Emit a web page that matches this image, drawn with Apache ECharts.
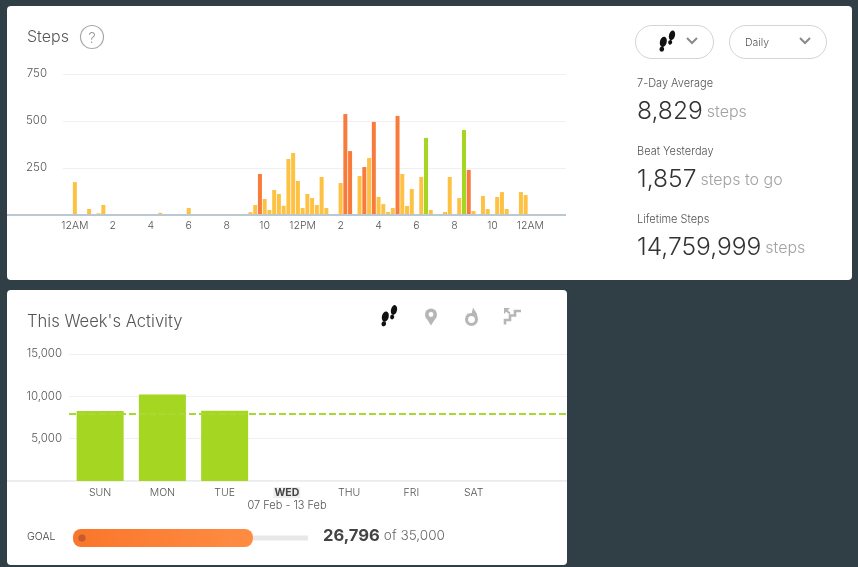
<!DOCTYPE html>
<html>
<head>
<meta charset="utf-8">
<style>
  html, body { margin: 0; padding: 0; background: #2f3f45; }
  #main { width: 858px; height: 567px; }
</style>
<script src="https://cdn.jsdelivr.net/npm/echarts@6/dist/echarts.min.js"></script>
</head>
<body>
<div id="main"></div>
<script>
// 15 minute bins starting at 12AM
var stepValues = [
  175, 0, 3, 32, 5, 9, 53, 3, 0, 0, 0, 0, 0, 0, 0, 0,
  0, 0, 12, 0, 0, 3, 0, 0, 37, 0, 0, 0, 0, 0, 0, 0,
  0, 0, 0, 0, 0, 15, 53, 218, 85, 27, 133, 112, 49, 298, 330, 181,
  37, 112, 90, 53, 202, 37, 0, 0, 170, 537, 340, 0, 207, 255, 303, 495,
  96, 58, 16, 37, 527, 218, 48, 138, 0, 202, 410, 27, 0, 0, 16, 202,
  3, 90, 452, 240, 21, 0, 101, 32, 3, 96, 122, 32, 0, 0, 122, 106
];
var orangeBins = [39, 57, 58, 61, 63, 68, 83];
var greenBins = [74, 82];
var hourLabels = ['12AM', '2', '4', '6', '8', '10', '12PM', '2', '4', '6', '8', '10', '12AM'];
var stepTicks = [0, 250, 500, 750];

var weekDays = ['SUN', 'MON', 'TUE', 'WED', 'THU', 'FRI', 'SAT', ''];
var weekSteps = [8280, 10230, 8286, null, null, null, null, null];
var weekTicks = [0, 5000, 10000, 15000];
var dailyGoal = 8000;
var weekTotal = 26796;
var weekGoal = 35000;

var leadBins = 2, trailBins = 8;
var YELLOW = '#fdc244', ORANGE = '#f97b3b', GREEN = '#a5d621', GREY = '#b6b6b6';
var FONT = 'Inter';

var stepCats = [], stepData = [];
for (var i = 0; i < leadBins + stepValues.length + trailBins; i++) {
  var b = i - leadBins;
  stepCats.push(b >= 0 && b % 8 === 0 && hourLabels[b / 8] ? hourLabels[b / 8] : '');
  stepData.push(b >= 0 && b < stepValues.length ? stepValues[b] : null);
}

function stepColor(p) {
  var b = p.dataIndex - leadBins;
  if (orangeBins.indexOf(b) >= 0) return ORANGE;
  if (greenBins.indexOf(b) >= 0) return GREEN;
  return YELLOW;
}

function footprints(dx, dy) {
  var parts = [
    [385.3, 316.6, 3.4, 5.2],
    [383.8, 323.8, 2.3, 2.6],
    [394, 310, 3, 5],
    [392.2, 317, 2, 2.4]
  ];
  return parts.map(function (s) {
    return { type: 'ellipse', x: s[0] + dx, y: s[1] + dy, rotation: -0.25,
      shape: { cx: 0, cy: 0, rx: s[2], ry: s[3] }, style: { fill: '#111' } };
  });
}

function label(x, y, text, size, color, extra) {
  var st = { x: x, y: y, text: text, fontSize: size, fill: color,
    fontFamily: FONT, fontWeight: 300, verticalAlign: 'middle' };
  for (var k in extra) st[k] = extra[k];
  return { type: 'text', style: st, z: 5 };
}

function statLine(y, text) {
  return label(637, y, text, 14, '#333', {
    rich: {
      n: { fontSize: 24.6, fill: '#333', fontFamily: FONT, fontWeight: 300 },
      u: { fontSize: 16, fill: '#a2a2a2', fontFamily: FONT, fontWeight: 300 }
    }
  });
}

function chevron(x, y) {
  return { type: 'polyline', shape: { points: [[x - 5, y - 3], [x, y + 2], [x + 5, y - 3]] },
    style: { stroke: '#8a8a8a', lineWidth: 2, fill: null } };
}

function pill(x, w) {
  return { type: 'rect', shape: { x: x, y: 25.5, width: w, height: 33, r: 16.5 },
    style: { fill: '#fff', stroke: '#d4d4d4', lineWidth: 1 } };
}

var graphics = [
  { type: 'rect', z: -10, shape: { x: 7, y: 6, width: 845, height: 274, r: 4 }, style: { fill: '#fff' } },
  { type: 'rect', z: -10, shape: { x: 7, y: 290, width: 560, height: 275, r: 4 }, style: { fill: '#fff' } },
  { type: 'line', z: 4, shape: { x1: 7, y1: 215, x2: 566, y2: 215 }, style: { stroke: '#b9c8d2', lineWidth: 2 } },
  { type: 'line', z: -5, shape: { x1: 7, y1: 481, x2: 567, y2: 481 }, style: { stroke: '#ececec', lineWidth: 2 } },

  label(27, 37, 'Steps', 16, '#555'),
  { type: 'circle', shape: { cx: 92, cy: 37, r: 11.5 }, style: { fill: '#fff', stroke: '#a8a8a8', lineWidth: 1.2 } },
  label(92, 38, '?', 15, '#999', { align: 'center' }),

  pill(635.5, 78), pill(729.5, 97),
  chevron(692, 41), chevron(805, 41),
  label(745, 43, 'Daily', 10.5, '#555'),

  label(637, 84, '7-Day Average', 11, '#555'),
  statLine(112, '{n|8,829} {u|steps}'),
  label(637, 152, 'Beat Yesterday', 11, '#555'),
  statLine(180, '{n|1,857} {u|steps to go}'),
  label(637, 220, 'Lifetime Steps', 11, '#555'),
  statLine(248, '{n|14,759,999} {u|steps}'),

  label(27, 322, "This Week's Activity", 16.6, '#555'),

  // location pin
  { type: 'polygon', shape: { points: [[425.6, 317], [436.4, 317], [431, 325.5]] }, style: { fill: GREY } },
  { type: 'circle', shape: { cx: 431, cy: 314.5, r: 6 }, style: { fill: GREY } },
  { type: 'circle', shape: { cx: 431, cy: 314.5, r: 2.4 }, style: { fill: '#fff' } },
  // flame
  { type: 'ring', shape: { cx: 471.5, cy: 319.5, r: 6.5, r0: 3.4 }, style: { fill: GREY } },
  { type: 'polygon', shape: { points: [[473, 307.5], [477, 314], [477.5, 318], [471, 315.5], [472, 312]] }, style: { fill: GREY } },
  { type: 'polygon', shape: { points: [[465.5, 317], [468, 313], [470, 316]] }, style: { fill: GREY } },
  // stairs
  { type: 'polyline', shape: { points: [[505, 324.5], [505, 320], [510, 320], [510, 315.5], [515, 315.5], [515, 311], [521, 311]] },
    style: { stroke: GREY, lineWidth: 2.6, fill: null } },
  { type: 'polyline', shape: { points: [[510, 313.5], [505, 309.5]] }, style: { stroke: GREY, lineWidth: 2.2, fill: null } },
  { type: 'polygon', shape: { points: [[504, 308], [510, 308], [504, 314]] }, style: { fill: GREY } },

  label(287, 506, '07 Feb - 13 Feb', 11, '#555', { align: 'center' }),
  label(27, 537, 'GOAL', 10.5, '#444'),
  { type: 'circle', z: 6, shape: { cx: 82, cy: 538, r: 3.6 }, style: { fill: '#c55a2c' } },
  label(323, 535.5, '{n|26,796} {u|of 35,000}', 14, '#555', {
    rich: {
      n: { fontSize: 16.6, fontWeight: 'bold', fill: '#444', fontFamily: FONT },
      u: { fontSize: 13.6, fill: '#666', fontFamily: FONT, fontWeight: 300 }
    }
  })
].concat(footprints(0, 0), footprints(278, -274.7));

var axisText = { color: '#555', fontSize: 10.5, fontFamily: FONT, fontWeight: 300 };
var yAxisText = { color: '#555', fontSize: 11.5, fontFamily: FONT, fontWeight: 300, padding: [4, 0, 0, 0] };
var splitLight = { show: true, lineStyle: { color: '#f0f0f0', width: 1 } };

var option = {
  animation: false,
  backgroundColor: '#2f3f45',
  graphic: { elements: graphics },
  grid: [
    { left: 63, top: 74, width: 503, height: 141 },
    { left: 69, top: 354, width: 498, height: 127 },
    { left: 73, top: 529, width: 235, height: 18 }
  ],
  xAxis: [
    { type: 'category', gridIndex: 0, data: stepCats, axisLine: { show: false }, axisTick: { show: false },
      axisLabel: Object.assign({ interval: 0, margin: 5, hideOverlap: false }, axisText) },
    { type: 'category', gridIndex: 1, data: weekDays, axisLine: { show: false }, axisTick: { show: false },
      axisLabel: Object.assign({
        interval: 0, margin: 6,
        formatter: function (v) { return v === 'WED' ? '{today|' + v + '}' : v; },
        rich: { today: { fontWeight: 'bold', backgroundColor: '#eeeeee', color: '#444', fontSize: 10.5, fontFamily: FONT, padding: [0, 1, 0, 1] } }
      }, axisText) },
    { type: 'value', gridIndex: 2, min: 0, max: weekGoal, show: false }
  ],
  yAxis: [
    { type: 'value', gridIndex: 0, min: stepTicks[0], max: stepTicks[3], interval: stepTicks[1],
      axisLine: { show: false }, axisTick: { show: false }, splitLine: splitLight,
      axisLabel: Object.assign({ margin: 16, formatter: function (v) { return v === 0 ? '' : v; } }, yAxisText) },
    { type: 'value', gridIndex: 1, min: weekTicks[0], max: weekTicks[3], interval: weekTicks[1],
      axisLine: { show: false }, axisTick: { show: false }, splitLine: splitLight,
      axisLabel: Object.assign({ margin: 7, formatter: function (v) { return v === 0 ? '' : v.toLocaleString('en-US'); } }, yAxisText) },
    { type: 'category', gridIndex: 2, data: ['goal'], show: false },
    { type: 'category', gridIndex: 2, data: ['track'], show: false }
  ],
  series: [
    { type: 'bar', name: 'Steps', xAxisIndex: 0, yAxisIndex: 0, data: stepData, barWidth: 4,
      itemStyle: { color: stepColor } },
    { type: 'bar', name: 'This week', xAxisIndex: 1, yAxisIndex: 1, data: weekSteps, barWidth: 47,
      itemStyle: { color: GREEN },
      markLine: { silent: true, symbol: 'none', label: { show: false },
        lineStyle: { color: '#a9d932', type: [7, 3], width: 2 },
        data: [{ yAxis: dailyGoal }] } },
    { type: 'bar', name: 'Goal track', xAxisIndex: 2, yAxisIndex: 3, data: [weekGoal], barWidth: 5, z: 1,
      itemStyle: { color: '#e8e8e8' } },
    { type: 'bar', name: 'Goal progress', xAxisIndex: 2, yAxisIndex: 2, data: [weekTotal], barWidth: 18, z: 2,
      itemStyle: { borderRadius: 8,
        color: new echarts.graphic.LinearGradient(0, 0, 1, 0, [
          { offset: 0, color: '#f9762c' }, { offset: 1, color: '#ff8c43' }
        ]) } }
  ]
};

echarts.init(document.getElementById('main')).setOption(option);
</script>
</body>
</html>
